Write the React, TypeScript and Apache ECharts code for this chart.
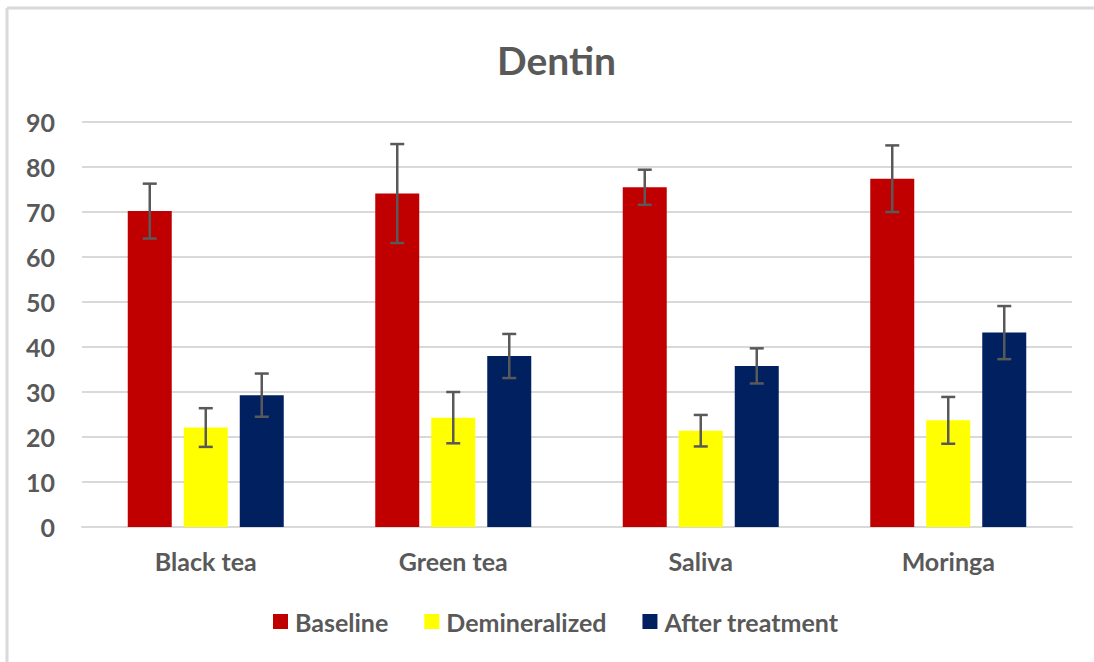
import React, { useEffect, useRef } from "react";
import * as echarts from "echarts";

const categories = ["Black tea", "Green tea", "Saliva", "Moringa"];
const seriesNames = ["Baseline", "Demineralized", "After treatment"];
const baseline = [70.2, 74.1, 75.5, 77.4];
const demineralized = [22.1, 24.3, 21.4, 23.7];
const afterTreatment = [29.3, 38.0, 35.8, 43.2];
const baselineErr = [6.1, 11.0, 3.9, 7.4];
const demineralizedErr = [4.3, 5.7, 3.5, 5.2];
const afterTreatmentErr = [4.8, 4.9, 3.9, 5.9];
const colors = ["#C00000", "#FFFF00", "#002060"];

const FONT = "Lato, 'Open Sans', sans-serif";
const TEXT = "#595959";

export default function App() {
  const ref = useRef<HTMLDivElement>(null);
  useEffect(() => {
    if (!ref.current) return;
    const chart = echarts.init(ref.current, undefined, { renderer: "svg" });
    const values = [baseline, demineralized, afterTreatment];
    const errs = [baselineErr, demineralizedErr, afterTreatmentErr];
    const barWidth = 44;
    const barGapPx = 12;

    const barSeries = values.map((v, i) => ({
      name: seriesNames[i],
      type: "bar",
      data: v,
      barWidth: barWidth,
      barGap: (barGapPx / barWidth) * 100 + "%",
      itemStyle: { color: colors[i] },
      z: 2,
    }));

    const errSeries = values.map((v, si) => ({
      type: "custom",
      name: seriesNames[si] + " err",
      z: 5,
      silent: true,
      data: v.map((val, ci) => [ci, val - errs[si][ci], val + errs[si][ci]]),
      renderItem: (params: any, api: any) => {
        const ci = api.value(0);
        const lo = api.coord([ci, api.value(1)]);
        const hi = api.coord([ci, api.value(2)]);
        const offset = (si - 1) * (barWidth + barGapPx);
        const x = lo[0] + offset;
        const cap = 7;
        const style = { stroke: "#595959", lineWidth: 2.5 };
        return {
          type: "group",
          children: [
            { type: "line", shape: { x1: x, y1: hi[1], x2: x, y2: lo[1] }, style },
            { type: "line", shape: { x1: x - cap, y1: hi[1], x2: x + cap, y2: hi[1] }, style },
            { type: "line", shape: { x1: x - cap, y1: lo[1], x2: x + cap, y2: lo[1] }, style },
          ],
        };
      },
    }));

    chart.setOption({
      animation: false,
      backgroundColor: "#ffffff",
      textStyle: { fontFamily: FONT },
      title: {
        text: "Dentin",
        left: 492,
        top: 35,
        textStyle: { fontFamily: FONT, fontSize: 39, fontWeight: "bold", color: TEXT },
      },
      legend: {
        data: seriesNames,
        bottom: 23,
        left: 268,
        itemWidth: 15,
        itemHeight: 15,
        itemGap: 36,
        icon: "rect",
        textStyle: { fontFamily: FONT, fontSize: 25, fontWeight: "bold", color: TEXT, padding: [0, 0, 0, 2] },
      },
      graphic: [
        { type: "line", shape: { x1: 7, y1: 8, x2: 1094, y2: 8 }, style: { stroke: "#d9d9d9", lineWidth: 3 } },
        { type: "line", shape: { x1: 7, y1: 8, x2: 7, y2: 662 }, style: { stroke: "#d9d9d9", lineWidth: 3 } },
      ],
      grid: { left: 82, right: 22, top: 122, bottom: 135, containLabel: false },
      xAxis: {
        type: "category",
        data: categories,
        axisLine: { show: true, lineStyle: { color: "#d9d9d9", width: 2 } },
        axisTick: { show: false },
        axisLabel: { fontFamily: FONT, fontSize: 25, fontWeight: "bold", color: TEXT, margin: 21 },
      },
      yAxis: {
        type: "value",
        min: 0,
        max: 90,
        interval: 10,
        axisLine: { show: false },
        axisTick: { show: false },
        splitLine: { lineStyle: { color: "#d9d9d9", width: 2 } },
        axisLabel: { fontFamily: FONT, fontSize: 25, fontWeight: "bold", color: TEXT, margin: 27 },
      },
      series: [...barSeries, ...errSeries],
    });
    return () => chart.dispose();
  }, []);
  return (
    <div
      ref={ref}
      style={{ position: "fixed", left: 0, top: 0, width: 1094, height: 662, background: "#fff" }}
    />
  );
}
